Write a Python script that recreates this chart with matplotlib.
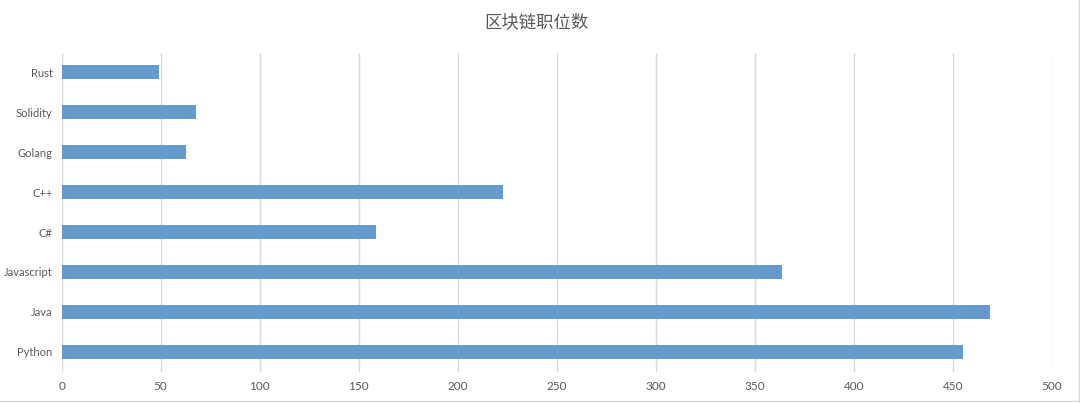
import matplotlib
matplotlib.use("Agg")
import matplotlib.pyplot as plt
from matplotlib.lines import Line2D

# data, bottom to top as in the chart
languages = ["Python", "Java", "Javascript", "C#", "C++", "Golang", "Solidity", "Rust"]
job_counts = [455, 469, 364, 159, 223, 63, 68, 49]
x_ticks = [0, 50, 100, 150, 200, 250, 300, 350, 400, 450, 500]

BAR_COLOR = "#6699cc"
TEXT_COLOR = "#595959"
GRID_COLOR = "#d9d9d9"

plt.rcParams["font.family"] = ["Lato", "Noto Sans CJK SC", "DejaVu Sans"]

fig = plt.figure(figsize=(10.8, 4.03), dpi=100)
ax = fig.add_axes([0.0571, 0.0777, 0.9167, 0.792])

ax.barh(range(len(languages)), job_counts, height=0.35, color=BAR_COLOR, zorder=3)

ax.set_xlim(0, 500)
ax.set_ylim(-0.5, len(languages) - 0.5)
ax.set_xticks(x_ticks)
ax.set_yticks(range(len(languages)))
ax.set_yticklabels(languages)
ax.xaxis.grid(True, color=GRID_COLOR, linewidth=1.0, zorder=0)
ax.tick_params(axis="both", length=0, labelcolor=TEXT_COLOR)
ax.tick_params(axis="x", pad=7, labelsize=8.5)
ax.tick_params(axis="y", pad=6.5, labelsize=8)
for spine in ax.spines.values():
    spine.set_visible(False)

fig.text(0.497, 0.945, "区块链职位数", ha="center", va="center",
         fontsize=12.5, color=TEXT_COLOR, family=["Noto Sans CJK SC", "DejaVu Sans"])

# chart frame edges visible on right and bottom
fig.add_artist(Line2D([0.999, 0.999], [0.0, 1.0], transform=fig.transFigure,
                      color=GRID_COLOR, linewidth=1.0))
fig.add_artist(Line2D([0.0, 1.0], [0.004, 0.004], transform=fig.transFigure,
                      color=GRID_COLOR, linewidth=1.0))

fig.savefig("out.png", dpi=100, facecolor="white")
